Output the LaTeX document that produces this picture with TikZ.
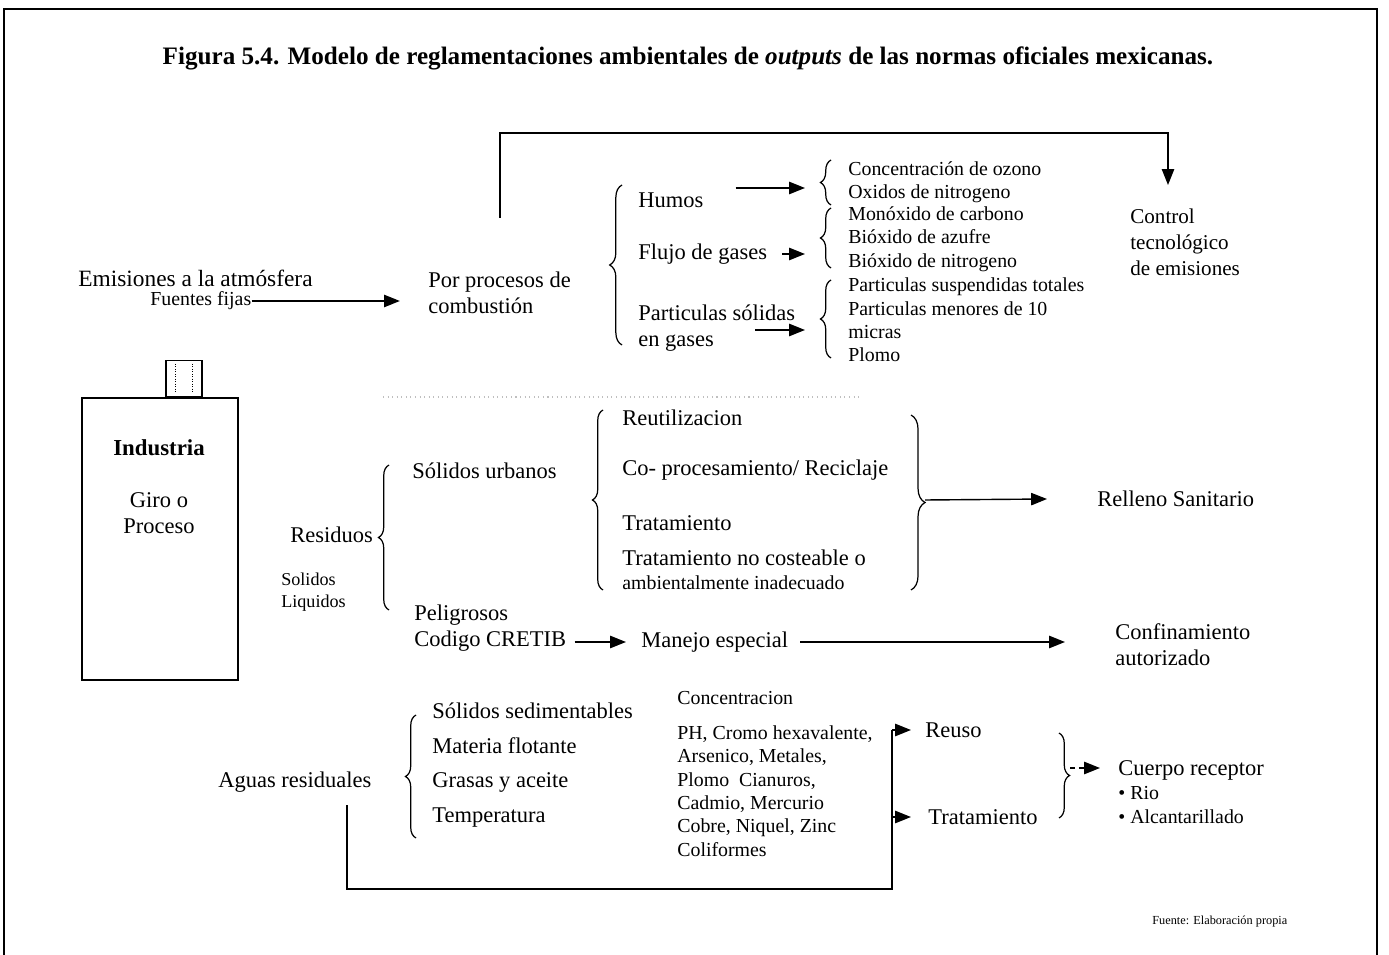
\documentclass[tikz,border=0pt]{standalone}
\usepackage{fontspec}
\setmainfont{Liberation Serif}
\usetikzlibrary{positioning,calc,arrows.meta,decorations.pathreplacing}

\tikzset{
  big/.style={font=\fontsize{12.8}{14.7}\selectfont, anchor=west, inner sep=0pt, align=left},
  mid/.style={font=\fontsize{11.3}{13.3}\selectfont, anchor=west, inner sep=0pt, align=left},
  arr/.style={-{Triangle[length=9pt,width=7pt]}, line width=0.8pt},
  brc/.style={decorate, decoration={brace, amplitude=6pt}, line width=0.7pt},
}

\begin{document}
\begin{tikzpicture}[x=0.02cm, y=-0.02cm]
\useasboundingbox (0,0) rectangle (1389,955);
\draw[line width=0.9pt] (4,955) -- (4,9) -- (1377,9) -- (1377,955);

\node[font=\fontsize{14.3}{17}\selectfont\bfseries] (titulo) at (688,58)
  {Figura 5.4. Modelo de reglamentaciones ambientales de \textit{outputs} de las normas oficiales mexicanas.};

% emisiones
\node[big, font=\fontsize{13.3}{15}\selectfont] (emis) at (78,278) {Emisiones a la atmósfera};
\node[mid] (fijas) at (150,301) {Fuentes fijas};
\node[big] (comb) at (428,293) {Por procesos de\\combustión};
\draw[arr, shorten >=16pt] (fijas.east) -- (fijas.east -| comb.west);
\node[mid, font=\fontsize{12}{14.7}\selectfont] (ctrl) at (1130,242) {Control\\tecnológico\\de emisiones};
\coordinate (arriba) at (500,218);
\coordinate (codo) at (1168,133);
\coordinate (ctrlin) at (1168,185);
\draw[arr] (arriba) |- (codo) -- (ctrlin);

\draw[brc, decoration={amplitude=7pt}] (622,345) -- (622,185);
\node[big] (humos) at (638,200) {Humos};
\node[big] (flujo) at (638,254) {Flujo de gases};
\node[big] (part) at (638,328) {Particulas sólidas\\en gases};

\draw[brc] (831,205) -- (831,160);
\draw[brc] (831,268) -- (831,208);
\draw[brc] (831,358) -- (831,280);
\node[mid, font=\fontsize{11.3}{13}\selectfont] (gas1) at (848,182) {Concentración de ozono\\Oxidos de nitrogeno};
\node[mid] (gas2) at (848,239) {Monóxido de carbono\\Bióxido de azufre\\Bióxido de nitrogeno};
\node[mid] (gas3) at (848,320) {Particulas suspendidas totales\\Particulas menores de 10\\micras\\Plomo};
\draw[arr] ($(humos.east)+(32,-12)$) -- ($(humos.east -| gas1.west)+(-43,-12)$);
\draw[arr] ($(flujo.east)+(15,0)$) -- ($(flujo.east -| gas2.west)+(-43,0)$);
\draw[arr] ($(part.east)+(-40,2)$) -- ($(part.east -| gas3.west)+(-43,2)$);

\draw[gray!50, dotted, line width=0.6pt] (383,397) -- (862,397);

% industria
\node[draw, line width=0.8pt, minimum width=3.12cm, minimum height=5.64cm] (ind) at (160,539) {};
\node[draw, line width=0.8pt, minimum width=0.72cm, minimum height=0.72cm, anchor=south west] (chim) at ($(ind.north west)+(84,0)$) {};
\draw[densely dotted] ($(chim.north west)+(10,4)$) -- ($(chim.south west)+(10,-4)$);
\draw[densely dotted] ($(chim.north east)+(-10,4)$) -- ($(chim.south east)+(-10,-4)$);
\node[font=\fontsize{13}{16}\selectfont\bfseries] (indlbl) at (159,448) {Industria};
\node[font=\fontsize{12.8}{14.7}\selectfont, align=center] (giro) at (159,513) {Giro o\\Proceso};

% residuos
\node[big] (resid) at (290,535) {Residuos};
\node[font=\fontsize{10.3}{12.5}\selectfont, anchor=west, inner sep=0pt, align=left] (solliq) at (281,592) {Solidos\\Liquidos};
\draw[brc] (389,610) -- (389,465);
\node[big] (urb) at (412,471) {Sólidos urbanos};
\node[big] (pelig) at (414,628) {Peligrosos\\Codigo CRETIB};
\node[big] (manejo) at (641,642) {Manejo especial};
\node[big] (confin) at (1115,645) {Confinamiento\\autorizado};
\draw[arr] ($(pelig.east |- manejo.west)+(8,0)$) -- ($(manejo.west)+(-15,0)$);
\draw[arr] ($(manejo.east)+(12,0)$) -- ($(manejo.east -| confin.west)+(-50,0)$);

\draw[brc] (603,590) -- (603,410);
\node[big] (reut) at (622,418) {Reutilizacion};
\node[big] (copro) at (622,470) {Co- procesamiento/ Reciclaje};
\node[big] (trat1) at (622,523) {Tratamiento};
\node[big] (tratnc) at (622,558) {Tratamiento no costeable o};
\node[mid] (ambin) at (622,583) {ambientalmente inadecuado};
\draw[brc, decoration={amplitude=8pt}] (911,415) -- (911,590);
\coordinate (cierre) at (925,500);
\node[big] (relleno) at (1097,499) {Relleno Sanitario};
\draw[arr] (cierre) -- ($(relleno.west)+(-50,0)$);

% aguas residuales
\node[big] (aguas) at (218,782) {Aguas residuales};
\draw[brc] (416,838) -- (416,715);
\node[big, font=\fontsize{12.8}{19.8}\selectfont] (param) at (432,765) {Sólidos sedimentables\\Materia flotante\\Grasas y aceite\\Temperatura};
\node[mid] (conc) at (677,698) {Concentracion};
\node[mid] (metal) at (677,791) {PH, Cromo hexavalente,\\Arsenico, Metales,\\Plomo\ \ Cianuros,\\Cadmio, Mercurio\\Cobre, Niquel, Zinc\\Coliformes};
\node[big] (reuso) at (925,730) {Reuso};
\node[big] (trat2) at (928,817) {Tratamiento};
\coordinate (bajada) at ($(aguas.west)+(129,23)$);
\coordinate (esq) at (892,889);
\draw[line width=0.8pt] (bajada) |- (esq) -- (esq |- reuso.west);
\draw[arr] (esq |- reuso.west) -- ($(reuso.west)+(-14,0)$);
\draw[arr] (esq |- trat2.west) -- ($(trat2.west)+(-17,0)$);
\draw[brc] (1059,733) -- (1059,818);
\coordinate (cierre2) at (1070,768);
\node[big] (cuerpo) at (1118,770) {Cuerpo receptor};
\node[mid] (destinos) at (1118,805) {\textbullet\ Rio\\\textbullet\ Alcantarillado};
\draw[arr, densely dashed] (cierre2) -- ($(cuerpo.west)+(-18,-2)$);

\node[font=\fontsize{7}{8}\selectfont, anchor=west, inner sep=0pt] (fuente) at (1152,922) {Fuente: Elaboración propia};
\end{tikzpicture}
\end{document}
